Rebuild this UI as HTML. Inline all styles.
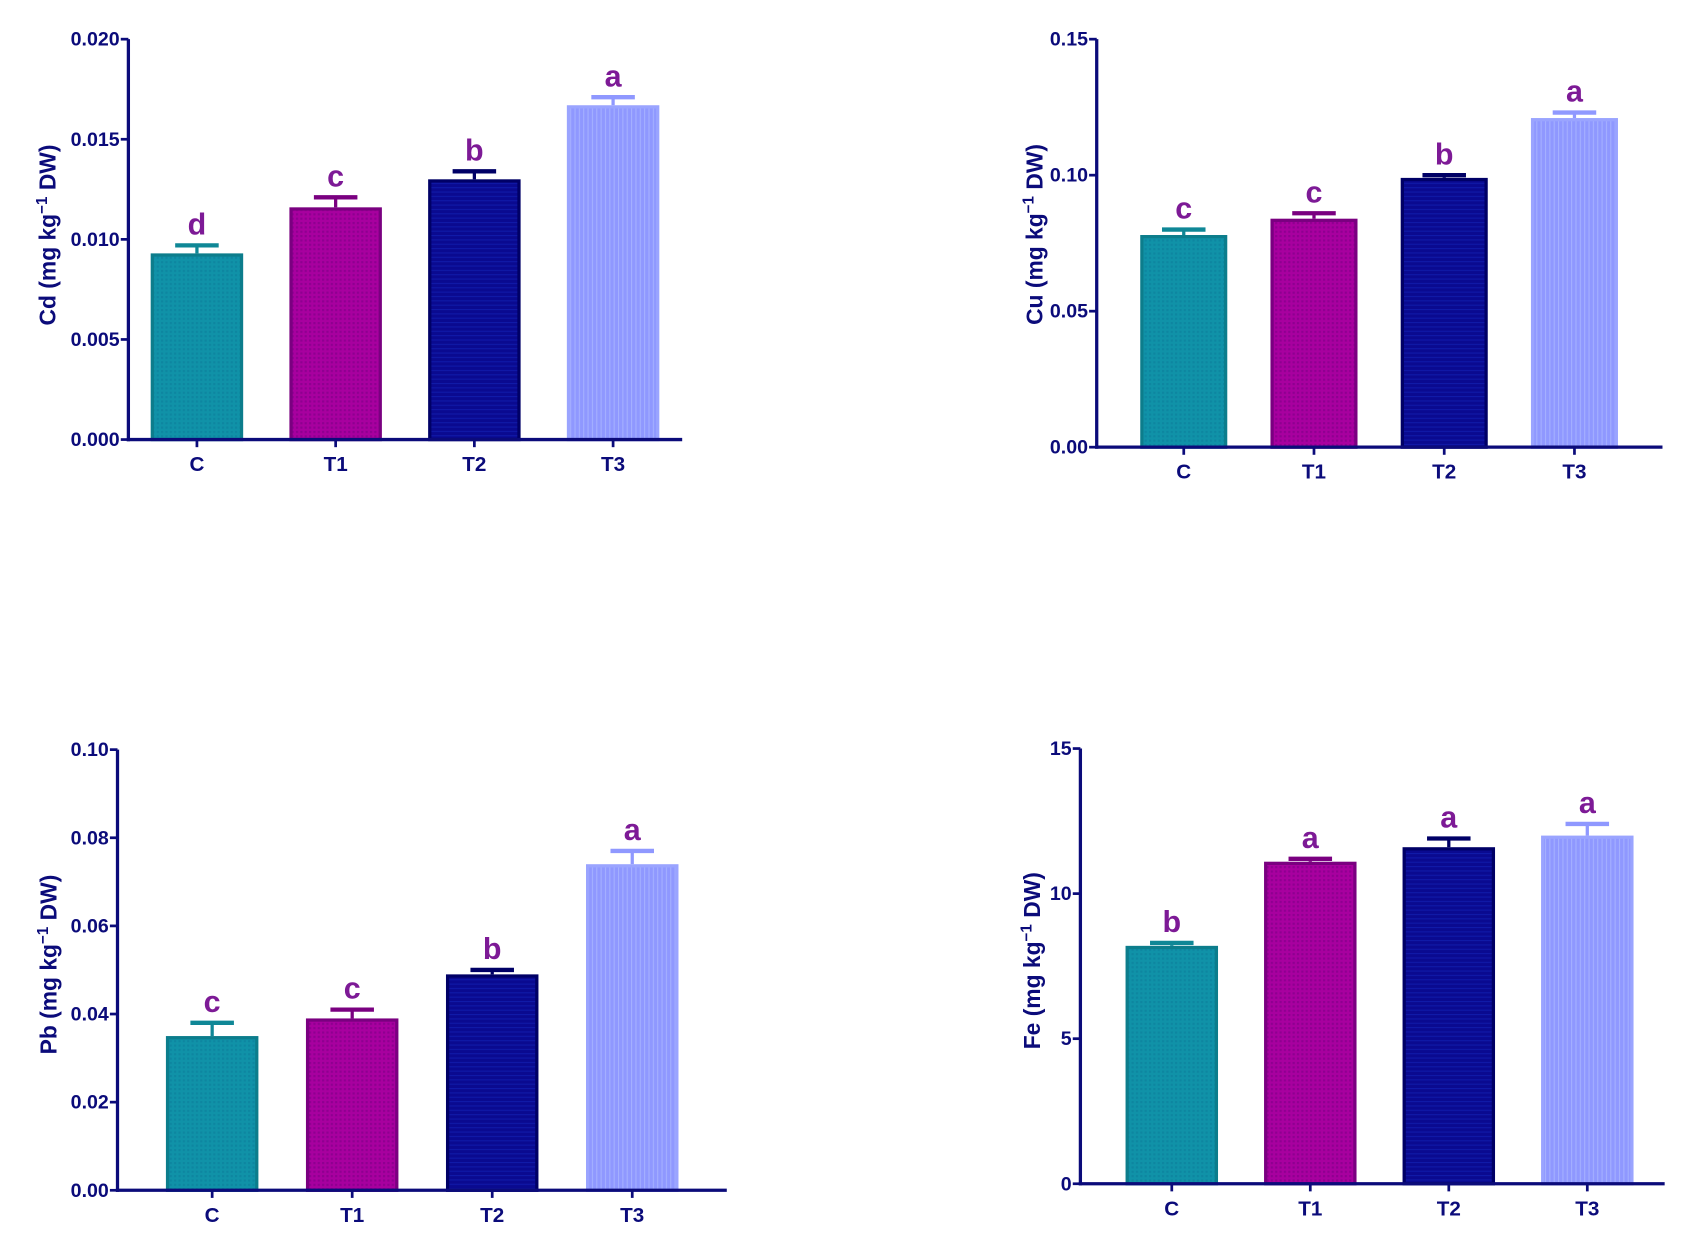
<!DOCTYPE html>
<html><head><meta charset="utf-8"><style>
html,body{margin:0;padding:0;background:#fff;}
svg{display:block;}
text{font-family:"Liberation Sans",sans-serif;font-weight:bold;}
</style></head><body>
<svg id="fig" width="1706" height="1256" viewBox="0 0 1568 1154.4" preserveAspectRatio="none" xmlns="http://www.w3.org/2000/svg">
<defs>
<pattern id="p0" width="4" height="4" patternUnits="userSpaceOnUse"><rect width="4" height="4" fill="#1092a8"/><rect width="2" height="2" fill="#0e86a0"/></pattern>
<pattern id="p1" width="4" height="4" patternUnits="userSpaceOnUse"><rect width="4" height="4" fill="#a8009f"/><rect width="2" height="2" fill="#8e0090"/></pattern>
<pattern id="p2" width="4" height="4" patternUnits="userSpaceOnUse"><rect width="4" height="4" fill="#0a0a90"/><rect width="4" height="1" fill="#101aa8"/></pattern>
<pattern id="p3" width="4" height="4" patternUnits="userSpaceOnUse"><rect width="4" height="4" fill="#8f98ff"/><rect width="1" height="4" fill="#a5b0ff"/></pattern>
</defs>
</svg>
<script>
const categories = ["C","T1","T2","T3"];
const cdValues = [0.0093,0.0116,0.0130,0.0167];
const cdErrors = [0.0004,0.0005,0.0004,0.0004];
const cdLetters = ["d","c","b","a"];
const cdTicks = ["0.000","0.005","0.010","0.015","0.020"];
const cuValues = [0.078,0.084,0.099,0.121];
const cuErrors = [0.002,0.002,0.001,0.002];
const cuLetters = ["c","c","b","a"];
const cuTicks = ["0.00","0.05","0.10","0.15"];
const pbValues = [0.035,0.039,0.049,0.074];
const pbErrors = [0.003,0.002,0.001,0.003];
const pbLetters = ["c","c","b","a"];
const pbTicks = ["0.00","0.02","0.04","0.06","0.08","0.10"];
const feValues = [8.2,11.1,11.6,12.0];
const feErrors = [0.1,0.1,0.3,0.4];
const feLetters = ["b","a","a","a"];
const feTicks = ["0","5","10","15"];

const NS="http://www.w3.org/2000/svg";
const svg=document.getElementById('fig');
const AX="#0b0b7a", LET="#7d1a96";
const fills=["url(#p0)","url(#p1)","url(#p2)","url(#p3)"];
const strokes=["#0c7d8c","#7a0080","#000066","#9aa4ff"];
const errCols=["#0f8796","#7a0080","#000066","#8f98ff"];
function mk(tag,attrs,parent){const e=document.createElementNS(NS,tag);for(const k in attrs)e.setAttribute(k,attrs[k]);(parent||svg).appendChild(e);return e;}

function chart(name,cfg,values,errors,letters,ticks,label){
  const g=mk('g',{});
  
  
  const max=parseFloat(ticks[ticks.length-1]);
  const y=v=>cfg.y0-(v/max)*(cfg.y0-cfg.yTop);
  const x=i=>cfg.x0+cfg.first+i*cfg.step;
  values.forEach((v,i)=>{
    const cx=x(i), top=y(v), et=y(v+errors[i]);
    const el=mk('line',{x1:cx,x2:cx,y1:top,y2:et,stroke:errCols[i],'stroke-width':3},g);
    
    
    const cap=mk('line',{x1:cx-20,x2:cx+20,y1:et,y2:et,stroke:errCols[i],'stroke-width':4},g);
    
    
    const r=mk('rect',{x:cx-cfg.bw/2+1.5,y:top+1.5,width:cfg.bw-3,height:cfg.y0-top-1.5,fill:fills[i],stroke:strokes[i],'stroke-width':3},g);
    
    
    const t=mk('text',{x:cx,y:et-10,'text-anchor':'middle','font-size':28,fill:LET},g);
    t.textContent=letters[i];
    
    
    const xl=mk('text',{x:cx,y:cfg.y0+29,'text-anchor':'middle','font-size':19,fill:AX},g);
    xl.textContent=categories[i];
    
    
    const tk=mk('line',{x1:cx,x2:cx,y1:cfg.y0,y2:cfg.y0+7,stroke:AX,'stroke-width':2.5},g);
    
    
  });
  const ya=mk('line',{x1:cfg.x0,x2:cfg.x0,y1:cfg.yTop,y2:cfg.y0+1.5,stroke:AX,'stroke-width':3},g);
  
  
  const xa=mk('line',{x1:cfg.x0-1.5,x2:cfg.xEnd,y1:cfg.y0,y2:cfg.y0,stroke:AX,'stroke-width':3},g);
  
  
  ticks.forEach(tv=>{
    const ty=y(parseFloat(tv));
    const l=mk('line',{x1:cfg.x0-7,x2:cfg.x0,y1:ty,y2:ty,stroke:AX,'stroke-width':2.5},g);
    
    
    const t=mk('text',{x:cfg.x0-8,y:ty+6,'text-anchor':'end','font-size':18,fill:AX},g);
    t.textContent=tv;
    
    
  });
  const cy=(cfg.y0+cfg.yTop)/2+cfg.labOff;
  const yt=mk('text',{x:0,y:0,'text-anchor':'middle','font-size':21,fill:AX,transform:`translate(${cfg.labX},${cy}) rotate(-90)`},g);
  yt.innerHTML=label+' (mg kg<tspan dy="-8" font-size="14">\u22121</tspan><tspan dy="8"> DW)</tspan>';
  
  
}
chart('cd',{x0:118,xEnd:627,yTop:36,y0:404,first:63,step:127.5,bw:85,labX:51,labOff:-4},cdValues,cdErrors,cdLetters,cdTicks,'Cd');
chart('cu',{x0:1008,xEnd:1528,yTop:36,y0:411,first:80,step:119.7,bw:80,labX:958,labOff:-8},cuValues,cuErrors,cuLetters,cuTicks,'Cu');
chart('pb',{x0:108,xEnd:668,yTop:689,y0:1094,first:87,step:128.7,bw:85,labX:52,labOff:-5},pbValues,pbErrors,pbLetters,pbTicks,'Pb');
chart('fe',{x0:993,xEnd:1530,yTop:688,y0:1088,first:84,step:127.3,bw:85,labX:956,labOff:-5},feValues,feErrors,feLetters,feTicks,'Fe');
</script>
</body></html>
